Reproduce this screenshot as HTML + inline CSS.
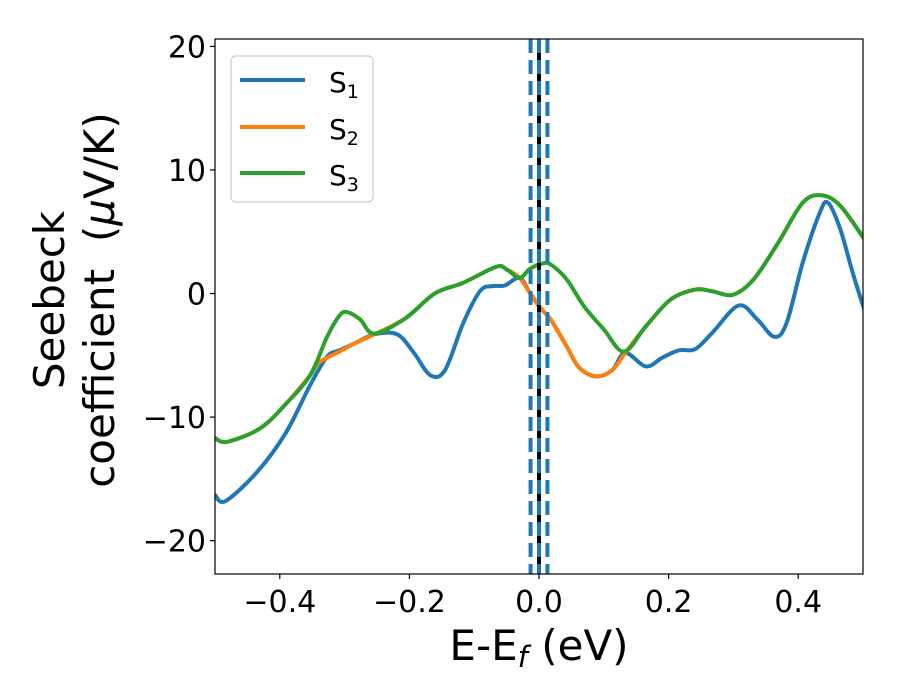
<!DOCTYPE html>
<html><head><meta charset="utf-8"><style>
body{margin:0;background:#fff}
svg{display:block;font-family:"DejaVu Sans","Liberation Sans",sans-serif}
</style></head><body>
<svg id="chart" width="900" height="700" viewBox="0 0 900 700">
<g id="plot"></g>
</svg>
<script>
const s1X=[-0.5,-0.484,-0.436,-0.391,-0.353,-0.327,-0.308,-0.283,-0.254,-0.219,-0.193,-0.168,-0.145,-0.117,-0.091,-0.072,-0.053,-0.03,-0.014,0.002,0.018,0.043,0.062,0.088,0.113,0.133,0.165,0.19,0.216,0.241,0.267,0.308,0.337,0.363,0.382,0.407,0.433,0.446,0.465,0.484,0.502];
const s1Y=[-16.3,-16.8,-14.5,-11.3,-7.4,-5.1,-4.6,-4.0,-3.3,-3.3,-4.8,-6.6,-6.2,-2.4,0.2,0.6,0.65,1.27,0.05,-1.16,-2.1,-4.3,-6.0,-6.7,-6.2,-4.8,-5.9,-5.2,-4.6,-4.5,-3.2,-0.97,-2.1,-3.5,-2.4,2.5,6.5,7.35,5.2,1.7,-1.3];
const s3X=[-0.5,-0.481,-0.43,-0.39,-0.353,-0.327,-0.308,-0.296,-0.276,-0.254,-0.206,-0.161,-0.117,-0.066,-0.05,-0.03,-0.014,0.005,0.018,0.043,0.069,0.1,0.131,0.165,0.203,0.241,0.267,0.299,0.331,0.369,0.407,0.436,0.465,0.502];
const s3Y=[-11.7,-12.0,-10.9,-8.9,-6.6,-3.5,-1.8,-1.5,-2.1,-3.25,-2.0,0.0,0.87,2.16,1.95,1.27,2.0,2.43,2.35,1.13,-1.0,-2.9,-4.7,-2.65,-0.49,0.32,0.19,-0.1,1.13,4.1,7.35,7.95,7.1,4.4];
const s2X=[-0.5,-0.481,-0.43,-0.39,-0.353,-0.34,-0.308,-0.283,-0.254,-0.206,-0.161,-0.117,-0.066,-0.05,-0.03,-0.014,0.002,0.018,0.043,0.062,0.088,0.113,0.133,0.165,0.203,0.241,0.267,0.299,0.331,0.369,0.407,0.436,0.465,0.502];
const s2Y=[-11.7,-12.0,-10.9,-8.9,-6.6,-5.6,-4.7,-4.0,-3.3,-2.0,0.0,0.87,2.16,1.95,1.27,0.05,-1.16,-2.1,-4.3,-6.0,-6.7,-6.2,-4.8,-2.65,-0.49,0.32,0.19,-0.1,1.13,4.1,7.35,7.95,7.1,4.4];
const xTicks=[-0.4,-0.2,0.0,0.2,0.4];
const xTickLabels=["\u22120.4","\u22120.2","0.0","0.2","0.4"];
const yTicks=[-20,-10,0,10,20];
const yTickLabels=["\u221220","\u221210","0","10","20"];
const vLines=[-0.013,0,0.013];

const L=215,R=863,T=39,B=574;
const xMin=-0.5,xMax=0.5,yMin=-22.7,yMax=20.6;
const xs=v=>L+(v-xMin)/(xMax-xMin)*(R-L);
const ys=v=>B-(v-yMin)/(yMax-yMin)*(B-T);
const NS='http://www.w3.org/2000/svg';
const svg=document.getElementById('chart');
const plot=document.getElementById('plot');
function mk(t,a,p){const e=document.createElementNS(NS,t);for(const k in a)e.setAttribute(k,a[k]);(p||svg).appendChild(e);return e;}
function smooth(X,Y){
  const P=X.map((x,i)=>[xs(x),ys(Y[i])]);
  let d='M'+P[0][0]+','+P[0][1];
  for(let i=0;i<P.length-1;i++){
    const p0=P[Math.max(0,i-1)],p1=P[i],p2=P[i+1],p3=P[Math.min(P.length-1,i+2)];
    const c1=[p1[0]+(p2[0]-p0[0])/6,p1[1]+(p2[1]-p0[1])/6];
    const c2=[p2[0]-(p3[0]-p1[0])/6,p2[1]-(p3[1]-p1[1])/6];
    d+=' C'+c1+' '+c2+' '+p2;
  }
  return d;
}
const defs=mk('defs',{});
const cp=mk('clipPath',{id:'clip'},defs);
mk('rect',{x:L,y:T,width:R-L,height:B-T},cp);
plot.setAttribute('clip-path','url(#clip)');

const l1=mk('path',{d:smooth(s1X,s1Y),fill:'none',stroke:'#1f77b4','stroke-width':4},plot);


const l2=mk('path',{d:smooth(s2X,s2Y),fill:'none',stroke:'#ff7f0e','stroke-width':4},plot);


const l3=mk('path',{d:smooth(s3X,s3Y),fill:'none',stroke:'#2ca02c','stroke-width':4},plot);



const fermi=mk('line',{x1:xs(0),x2:xs(0),y1:T,y2:B,stroke:'#000','stroke-width':4},plot);


vLines.forEach(v=>{
  const e=mk('line',{x1:xs(v),x2:xs(v),y1:T,y2:B,stroke:'#1f77b4','stroke-width':4,'stroke-dasharray':'14,7'},plot);
  
  
});

const frame=mk('rect',{x:L,y:T,width:R-L,height:B-T,fill:'none',stroke:'#000','stroke-width':1.2});



xTicks.forEach((v,i)=>{
  mk('line',{x1:xs(v),x2:xs(v),y1:B,y2:B+5,stroke:'#000','stroke-width':1.2});
  const t=mk('text',{x:xs(v),y:B+38,'text-anchor':'middle','font-size':30});
  t.textContent=xTickLabels[i];
  
  
});
yTicks.forEach((v,i)=>{
  mk('line',{x1:L-5,x2:L,y1:ys(v),y2:ys(v),stroke:'#000','stroke-width':1.2});
  const t=mk('text',{x:L-9,y:ys(v)+11,'text-anchor':'end','font-size':30});
  t.textContent=yTickLabels[i];
  
  
});
</script>
<svg style="position:absolute;left:0;top:0" width="900" height="700">
<text x="539" y="660" text-anchor="middle" font-size="42">E-E<tspan font-style="italic" font-size="29" dy="7">f</tspan><tspan dy="-7"> (eV)</tspan></text>
<g transform="translate(64,300) rotate(-90)">
<text x="0" y="0" text-anchor="middle" font-size="42">Seebeck</text>
<text x="0" y="50" text-anchor="middle" font-size="42">coefficient&#160; (<tspan font-style="italic">μ</tspan>V/K)</text>
</g>
<g>
<rect x="231" y="56" width="142" height="146" rx="5" fill="#fff" fill-opacity="0.8" stroke="#ccc" stroke-width="1.2"/>
<g><line x1="240" x2="305" y1="80" y2="80" stroke="#1f77b4" stroke-width="4"/><text x="329" y="92" font-size="28">S<tspan font-size="19" dy="6">1</tspan></text></g>
<g><line x1="240" x2="305" y1="127" y2="127" stroke="#ff7f0e" stroke-width="4"/><text x="329" y="139" font-size="28">S<tspan font-size="19" dy="6">2</tspan></text></g>
<g><line x1="240" x2="305" y1="173" y2="173" stroke="#2ca02c" stroke-width="4"/><text x="329" y="185" font-size="28">S<tspan font-size="19" dy="6">3</tspan></text></g>
</g>
</svg>
</body></html>
